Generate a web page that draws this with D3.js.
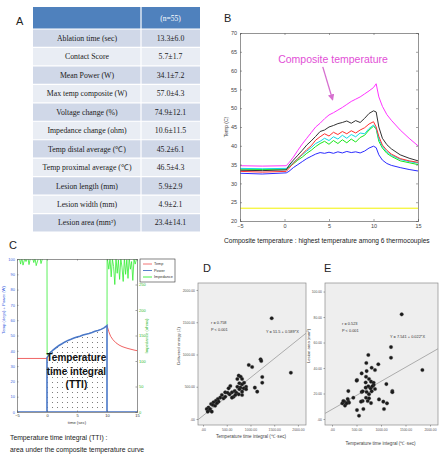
<!DOCTYPE html>
<html>
<head>
<meta charset="utf-8">
<script src="https://d3js.org/d3.v7.min.js"></script>
<style>
  body { margin: 0; background: #fff; }
  svg { display: block; font-family: "Liberation Sans", Arial, sans-serif; }
</style>
</head>
<body>
<div id="root"></div>
<script>
// ---------- Panel A : table ----------
const tableHeader = ["", "(n=55)"];
const tableLabels = [
  "Ablation time (sec)", "Contact Score", "Mean Power (W)", "Max temp composite (W)",
  "Voltage change (%)", "Impedance change (ohm)", "Temp distal average (\u2103)",
  "Temp proximal average (\u2103)", "Lesion length (mm)", "Lesion width (mm)", "Lesion area (mm\u00b2)"
];
const tableValues = [
  "13.3\u00b16.0", "5.7\u00b11.7", "34.1\u00b17.2", "57.0\u00b14.3", "74.9\u00b112.1", "10.6\u00b111.5",
  "45.2\u00b16.1", "46.5\u00b14.3", "5.9\u00b12.9", "4.9\u00b12.1", "23.4\u00b114.1"
];

// ---------- Panel B : thermocouple temperatures ----------
const timeB = [-5, -2.5, 0.2, 0.5, 1, 1.5, 2, 2.5, 3, 3.5, 4, 4.5, 5, 5.5, 6, 6.5, 7, 7.5, 8, 8.5, 9, 9.5, 10, 10.3, 10.6, 11, 11.5, 12, 13, 14, 15];
const tempMagenta = [34.7, 34.6, 34.7, 35.5, 37.0, 38.8, 40.5, 42.0, 43.5, 45.0, 46.0, 47.2, 48.2, 48.8, 49.5, 50.2, 51.0, 51.8, 52.4, 53.0, 53.8, 54.6, 55.5, 56.5, 53.0, 50.5, 48.3, 46.8, 44.2, 42.0, 40.0];
const tempBlack   = [33.5, 33.4, 33.6, 34.8, 36.2, 37.5, 38.8, 40.2, 41.3, 42.5, 43.8, 44.2, 45.0, 45.4, 45.9, 46.2, 46.6, 46.0, 46.7, 46.2, 47.3, 48.6, 49.3, 49.0, 45.0, 42.0, 40.3, 39.2, 37.6, 36.7, 36.0];
const tempRed     = [33.2, 33.0, 33.2, 34.0, 35.4, 36.6, 37.8, 39.0, 40.0, 41.5, 42.4, 43.2, 42.6, 43.6, 43.0, 43.8, 43.2, 44.0, 43.4, 44.2, 44.8, 45.8, 46.4, 45.0, 42.5, 40.2, 38.8, 37.8, 36.6, 36.0, 35.6];
const tempCyan    = [34.0, 33.9, 34.0, 34.5, 35.6, 36.6, 37.6, 38.6, 39.5, 40.6, 41.2, 42.0, 41.4, 42.4, 41.8, 42.8, 42.0, 43.0, 42.4, 43.4, 43.2, 44.6, 45.5, 44.6, 41.8, 39.8, 38.4, 37.5, 36.4, 35.8, 35.4];
const tempGreen   = [33.8, 33.7, 33.8, 34.3, 35.2, 36.2, 37.0, 38.0, 38.8, 39.8, 40.6, 41.2, 40.4, 41.4, 40.6, 41.6, 40.8, 41.8, 41.0, 42.2, 42.8, 44.2, 45.2, 44.5, 41.2, 39.4, 38.0, 37.2, 36.0, 35.5, 35.0];
const tempBlue    = [32.7, 32.5, 32.8, 33.2, 34.2, 35.0, 35.8, 36.6, 37.2, 37.8, 38.2, 38.0, 38.3, 38.0, 38.4, 38.1, 38.5, 38.2, 38.4, 38.1, 38.6, 39.4, 39.9, 39.5, 37.6, 36.2, 35.3, 34.8, 34.2, 33.7, 33.3];
const timeYellow = [-5, 15];
const tempYellow = [23.4, 23.4];
const ticksBx = [-5, 0, 5, 10, 15];
const ticksBy = [20, 25, 30, 35, 40, 45, 50, 55, 60, 65, 70];

// ---------- Panel C : TTI ----------
const timeCPre = [-5, -2.5, 0];
const tempCPre = [35, 35, 35];
const timeCAbl = [0, 0.25, 0.5, 1, 1.5, 2, 2.5, 3, 3.5, 4, 4.5, 5, 5.5, 6, 6.5, 7, 7.5, 8, 8.5, 9, 9.5, 10];
const tempCAbl = [35.5, 37, 38.5, 40.5, 42, 43.5, 44.6, 45.8, 46.8, 47.5, 48.3, 49, 49.5, 50.3, 50.8, 51.3, 52, 52.8, 53.3, 54, 55, 56.5];
const timeCPost = [10, 10.3, 10.6, 11, 11.5, 12, 12.5, 13, 13.5, 14, 14.5, 15];
const tempCPost = [56.5, 52.5, 49.5, 47.2, 45.2, 43.8, 42.8, 42.1, 41.5, 41, 40.5, 40.1];
const timePower = [-5, 15];
const power = [0, 0];
const timeImpPre = [-5, -4.6, -4.4, -4.2, -4, -3.7, -3.5, -3.2, -3, -2.8, -2.5, -2.2, -2, -1.8, -1.5, -1.2, -1, -0.7, -0.5, -0.2, 0, 0.02, 0.3, 0.6];
const impPre = [305, 302, 290, 303, 288, 301, 295, 304, 289, 300, 306, 293, 302, 287, 299, 305, 291, 303, 304, 302, 300, 112, 115, 118];
const timeImpPost = [10, 10.02, 10.3, 10.5, 10.7, 10.9, 11.1, 11.3, 11.5, 11.7, 11.9, 12.1, 12.3, 12.5, 12.7, 12.9, 13.1, 13.3, 13.5, 13.7, 13.9, 14.1, 14.3, 14.5, 14.7, 15];
const impPost = [170, 305, 280, 302, 265, 300, 285, 250, 303, 272, 298, 260, 301, 284, 256, 302, 270, 299, 262, 303, 280, 295, 258, 300, 290, 304];
const ticksCx = [-5, 0, 5, 10, 15];
const ticksCLeft = [0, 10, 20, 30, 40, 50, 60, 70, 80, 90, 100];
const ticksCRight = [0, 50, 100, 150, 200, 250];
const legendC = ["Temp", "Power", "Impedance"];

// ---------- Panel D : TTI vs delivered energy ----------
const ttiD = [1447, 1851, 964, 1035, 1213, 1227, 1248, 1248, 1092, 1142, 752, 794, 823, 723, 766, 823, 865, 907, 575, 723, 787, 468, 518, 560, 610, 667, 702, 752, 823, 858, 645, 681, 397, 362, 312, 270, 327, 433, 220, 170, 206, 255, 114, 78, 128, 99, 149, 539, 610, 766, 907, 823, 184, 468, 291];
const energyD = [1561, 718, 837, 806, 925, 899, 651, 563, 486, 424, 672, 656, 620, 620, 553, 537, 563, 501, 512, 501, 486, 413, 408, 382, 413, 434, 408, 382, 424, 475, 346, 372, 372, 331, 310, 284, 269, 320, 258, 232, 217, 206, 176, 155, 135, 114, 155, 475, 331, 460, 460, 372, 114, 346, 243];
const fitD = { a: 51.5, b: 0.589, r: "0.758" };

// ---------- Panel E : TTI vs lesion area ----------
const ttiE = [1422, 1844, 1204, 1204, 1231, 1231, 1109, 1122, 1061, 741, 700, 809, 877, 945, 605, 510, 694, 755, 796, 850, 850, 741, 687, 789, 605, 707, 755, 809, 694, 755, 626, 728, 796, 333, 435, 320, 251, 211, 265, 333, 347, 640, 551, 510, 959, 1047, 592, 877, 687, 707, 626, 503, 231, 299, 823];
const areaE = [82.1, 38.4, 56.4, 48.1, 22.0, 21.0, 27.4, 12.3, 7.8, 50.2, 43.9, 40.2, 38.4, 42.9, 35.8, 30.6, 33.2, 31.4, 29.3, 28.5, 26.7, 25.7, 24.6, 24.0, 21.2, 21.2, 19.5, 21.7, 16.7, 16.2, 14.1, 14.1, 12.5, 21.9, 16.7, 15.7, 13.6, 12.3, 10.5, 13.6, 12.8, 7.8, 2.6, 7.0, 15.4, 13.6, 13.6, 23.5, 28.7, 37.6, 21.7, 30.1, 14.1, 12.3, 25.7];
const fitE = { a: 7.541, b: 0.022, r: "0.523" };
const ticksTTI = [0, 500, 1000, 1500, 2000];
const ticksEnergy = [0, 500, 1000, 1500, 2000];
const ticksArea = [0, 20, 40, 60, 80, 100];

// ================= drawing =================
const svg = d3.select("#root").append("svg").attr("width", 441).attr("height", 454);
svg.append("rect").attr("width", 441).attr("height", 454).attr("fill", "#fff");

const defs = svg.append("defs");
defs.append("pattern").attr("id", "dots").attr("width", 5).attr("height", 5)
  .attr("patternUnits", "userSpaceOnUse")
  .append("circle").attr("cx", 2.5).attr("cy", 2.5).attr("r", 0.55).attr("fill", "#666");
defs.append("marker").attr("id", "arrowPink").attr("viewBox", "0 0 10 10")
  .attr("refX", 8).attr("refY", 5).attr("markerWidth", 5).attr("markerHeight", 5)
  .attr("orient", "auto")
  .append("path").attr("d", "M0,0L10,5L0,10z").attr("fill", "#d66fcf");

function panelLabel(t, x, y) {
  svg.append("text").attr("x", x).attr("y", y).attr("font-size", 11).attr("fill", "#222").text(t);
}
const zip = (xs, ys) => xs.map((x, i) => [x, ys[i]]);

// ---- A ----
panelLabel("A", 16, 25);
const tA = { x0: 33, xs: 141, x1: 200, y0: 7, hh: 22 };
const rowY = d3.scaleBand().domain(d3.range(tableLabels.length)).range([tA.y0 + tA.hh, 232]);
const gA = svg.append("g").attr("font-family", "'Liberation Serif', 'Times New Roman', serif");
gA.append("rect").attr("x", tA.x0).attr("y", tA.y0).attr("width", tA.x1 - tA.x0).attr("height", tA.hh)
  .attr("fill", "#4f81bd");
gA.append("text").attr("x", (tA.xs + tA.x1) / 2).attr("y", tA.y0 + tA.hh / 2 + 2.5)
  .attr("text-anchor", "middle").attr("font-size", 7.5).attr("fill", "#fff").text(tableHeader[1]);
const rows = gA.selectAll("g.row").data(tableLabels).join("g").attr("class", "row");
rows.append("rect").attr("x", tA.x0).attr("y", (d, i) => rowY(i)).attr("width", tA.x1 - tA.x0)
  .attr("height", rowY.bandwidth()).attr("fill", (d, i) => i % 2 === 0 ? "#d0d8e8" : "#e9edf4");
rows.append("text").attr("x", (tA.x0 + tA.xs) / 2).attr("y", (d, i) => rowY(i) + rowY.bandwidth() / 2 + 2.7)
  .attr("text-anchor", "middle").attr("font-size", 7.8).attr("fill", "#1a1a1a").text(d => d);
rows.append("text").attr("x", (tA.xs + tA.x1) / 2).attr("y", (d, i) => rowY(i) + rowY.bandwidth() / 2 + 2.7)
  .attr("text-anchor", "middle").attr("font-size", 7.8).attr("fill", "#1a1a1a").text((d, i) => tableValues[i]);
// white grid lines
gA.selectAll("line.h").data(d3.range(tableLabels.length + 1)).join("line")
  .attr("x1", tA.x0).attr("x2", tA.x1)
  .attr("y1", i => i === 0 ? tA.y0 + tA.hh : rowY(i - 1) + rowY.bandwidth())
  .attr("y2", i => i === 0 ? tA.y0 + tA.hh : rowY(i - 1) + rowY.bandwidth())
  .attr("stroke", "#fff").attr("stroke-width", 1.2);
gA.append("line").attr("x1", tA.xs).attr("x2", tA.xs).attr("y1", tA.y0).attr("y2", 232)
  .attr("stroke", "#fff").attr("stroke-width", 1.2);

// ---- B ----
panelLabel("B", 224, 22);
const xB = d3.scaleLinear().domain([-5, 15]).range([240, 418]);
const yB = d3.scaleLinear().domain([20, 70]).range([221, 33]);
const gB = svg.append("g");
const lineB = d3.line().x(d => xB(d[0])).y(d => yB(d[1]));
const seriesB = [
  { t: timeYellow, v: tempYellow, c: "#f2f200" },
  { t: timeB, v: tempBlue, c: "#2b2bff" },
  { t: timeB, v: tempGreen, c: "#19e619" },
  { t: timeB, v: tempCyan, c: "#12d9e6" },
  { t: timeB, v: tempRed, c: "#ff3030" },
  { t: timeB, v: tempBlack, c: "#333" },
  { t: timeB, v: tempMagenta, c: "#ff33ff" }
];
gB.selectAll("path.s").data(seriesB).join("path").attr("class", "s")
  .attr("d", s => lineB(zip(s.t, s.v))).attr("fill", "none").attr("stroke", s => s.c).attr("stroke-width", 1);
function styleAxis(g, size, color) {
  g.selectAll(".domain").attr("stroke", "#666").attr("stroke-width", 0.7);
  g.selectAll(".tick line").attr("stroke", "#666").attr("stroke-width", 0.6);
  g.selectAll("text").attr("font-size", size).attr("fill", color);
}
gB.append("g").attr("transform", "translate(0,221)")
  .call(d3.axisBottom(xB).tickValues(ticksBx).tickSize(-2).tickPadding(3)).call(styleAxis, 5.5, "#444");
gB.append("g").attr("transform", "translate(0,33)")
  .call(d3.axisTop(xB).tickValues(ticksBx).tickSize(-2).tickFormat("")).call(styleAxis, 5.5, "#444");
gB.append("g").attr("transform", "translate(240,0)")
  .call(d3.axisLeft(yB).tickValues(ticksBy).tickSize(-2).tickPadding(3)).call(styleAxis, 5.5, "#444");
gB.append("g").attr("transform", "translate(418,0)")
  .call(d3.axisRight(yB).tickValues(ticksBy).tickSize(-2).tickFormat("")).call(styleAxis, 5.5, "#444");
gB.append("text").attr("transform", "translate(228,127) rotate(-90)").attr("text-anchor", "middle")
  .attr("font-size", 5).attr("fill", "#444").text("Temp (C)");
gB.append("text").attr("x", 333).attr("y", 63).attr("text-anchor", "middle")
  .attr("font-size", 10.5).attr("fill", "#e24fd6").text("Composite temperature");
gB.append("line").attr("x1", xB(4.3)).attr("y1", yB(61)).attr("x2", xB(5.4)).attr("y2", yB(52.3))
  .attr("stroke", "#d66fcf").attr("stroke-width", 1.3).attr("marker-end", "url(#arrowPink)");
svg.append("text").attr("x", 224).attr("y", 243).attr("font-size", 6.6).attr("fill", "#222")
  .text("Composite temperature : highest temperature among 6 thermocouples");

// ---- C ----
panelLabel("C", 9, 249);
const xC = d3.scaleLinear().domain([-5, 15]).range([17, 137]);
const yCL = d3.scaleLinear().domain([0, 100]).range([412, 259]);
const yCR = d3.scaleLinear().domain([0, 300]).range([412, 259]);
defs.append("clipPath").attr("id", "clipC").append("rect")
  .attr("x", 17).attr("y", 259).attr("width", 120).attr("height", 153);
const gC = svg.append("g");
const plotC = gC.append("g").attr("clip-path", "url(#clipC)");
const lineCL = d3.line().x(d => xC(d[0])).y(d => yCL(d[1]));
const lineCR = d3.line().x(d => xC(d[0])).y(d => yCR(d[1]));
const abl = zip(timeCAbl, tempCAbl);
plotC.append("path").datum(abl)
  .attr("d", d3.area().x(d => xC(d[0])).y0(yCL(0)).y1(d => yCL(d[1])))
  .attr("fill", "url(#dots)");
plotC.append("path").attr("d", lineCR(zip(timeImpPre, impPre))).attr("fill", "none").attr("stroke", "#33ee33").attr("stroke-width", 0.8);
plotC.append("path").attr("d", lineCR(zip(timeImpPost, impPost))).attr("fill", "none").attr("stroke", "#33ee33").attr("stroke-width", 0.8);
plotC.append("path").attr("d", lineCL(zip(timeCPre, tempCPre))).attr("fill", "none").attr("stroke", "#f06464").attr("stroke-width", 1);
plotC.append("path").attr("d", lineCL(zip(timeCPost, tempCPost))).attr("fill", "none").attr("stroke", "#f06464").attr("stroke-width", 1);
plotC.append("path").attr("d", lineCL(zip(timePower, power))).attr("fill", "none").attr("stroke", "#4472c4").attr("stroke-width", 1.6);
plotC.append("path").attr("d", lineCL([[timeCAbl[0], 0], ...abl, [timeCAbl[timeCAbl.length - 1], 0]]))
  .attr("fill", "none").attr("stroke", "#4a78c8").attr("stroke-width", 1.6);
gC.append("g").attr("transform", "translate(0,412)")
  .call(d3.axisBottom(xC).tickValues(ticksCx).tickSize(-1.5).tickPadding(2)).call(styleAxis, 4, "#333");
gC.append("g").attr("transform", "translate(0,259)")
  .call(d3.axisTop(xC).tickValues(ticksCx).tickSize(-1.5).tickFormat("")).call(styleAxis, 4, "#333");
gC.append("g").attr("transform", "translate(17,0)")
  .call(d3.axisLeft(yCL).tickValues(ticksCLeft).tickSize(-1.5).tickPadding(2)).call(styleAxis, 4, "#3b5fe0");
gC.append("g").attr("transform", "translate(137,0)")
  .call(d3.axisRight(yCR).tickValues(ticksCRight).tickSize(-1.5).tickPadding(2)).call(styleAxis, 4, "#2db82d");
gC.append("text").attr("transform", "translate(5,310) rotate(-90)").attr("text-anchor", "middle")
  .attr("font-size", 4.2).attr("fill", "#3b5fe0").text("Temp (degs) + Power (W)");
gC.append("text").attr("transform", "translate(148,336) rotate(-90)").attr("text-anchor", "middle")
  .attr("font-size", 4.2).attr("fill", "#2db82d").text("Impedance (ohms)");
gC.append("text").attr("x", 77).attr("y", 424).attr("text-anchor", "middle")
  .attr("font-size", 4.2).attr("fill", "#333").text("time (sec)");
const tti = gC.append("text").attr("text-anchor", "middle").attr("font-weight", "bold")
  .attr("font-family", "'Liberation Sans Narrow', 'Liberation Sans', Arial, sans-serif")
  .attr("font-size", 10).attr("fill", "#111");
["Temperature", "time integral", "(TTI)"].forEach((s, i) =>
  tti.append("tspan").attr("x", xC(4.9)).attr("y", 361 + i * 13.5).text(s));
// legend
const lg = gC.append("g").attr("transform", "translate(140,259)");
lg.append("rect").attr("width", 35).attr("height", 23).attr("fill", "#fff").attr("stroke", "#333").attr("stroke-width", 0.6);
const legColors = ["#f06464", "#4472c4", "#33ee33"];
legendC.forEach((s, i) => {
  lg.append("line").attr("x1", 3).attr("x2", 12).attr("y1", 5 + i * 6.5).attr("y2", 5 + i * 6.5)
    .attr("stroke", legColors[i]).attr("stroke-width", 0.9);
  lg.append("text").attr("x", 14).attr("y", 6.4 + i * 6.5).attr("font-size", 3.8).attr("fill", "#333").text(s);
});
svg.append("text").attr("x", 10).attr("y", 440).attr("font-size", 6.8).attr("fill", "#222")
  .text("Temperature time integral (TTI) :");
svg.append("text").attr("x", 10).attr("y", 452).attr("font-size", 6.8).attr("fill", "#222")
  .text("area under the composite temperature curve");

// ---- D & E scatter ----
function scatter(o) {
  const x = d3.scaleLinear().domain(o.xDom).range([o.x0, o.x1]);
  const y = d3.scaleLinear().domain(o.yDom).range([o.y1, o.y0]);
  const g = svg.append("g");
  const clipId = "clip" + o.name;
  defs.append("clipPath").attr("id", clipId).append("rect")
    .attr("x", o.x0).attr("y", o.y0).attr("width", o.x1 - o.x0).attr("height", o.y1 - o.y0);
  g.append("rect").attr("x", o.x0).attr("y", o.y0).attr("width", o.x1 - o.x0).attr("height", o.y1 - o.y0)
    .attr("fill", "#eeeeee").attr("stroke", "#8a8a8a").attr("stroke-width", 0.7);
  g.append("line").attr("clip-path", `url(#${clipId})`)
    .attr("x1", x(o.xDom[0])).attr("y1", y(o.fit.a + o.fit.b * o.xDom[0]))
    .attr("x2", x(o.xDom[1])).attr("y2", y(o.fit.a + o.fit.b * o.xDom[1]))
    .attr("stroke", "#9a9a9a").attr("stroke-width", 0.8);
  g.selectAll("circle").data(zip(o.xs, o.ys)).join("circle")
    .attr("cx", d => x(d[0])).attr("cy", d => y(d[1])).attr("r", 1.8)
    .attr("fill", "#1a1a1a").attr("stroke", "#555").attr("stroke-width", 0.3);
  const fmt = v => v === 0 ? ".00" : d3.format(".2f")(v);
  g.append("g").attr("transform", `translate(0,${o.y1})`)
    .call(d3.axisBottom(x).tickValues(o.xTicks).tickSize(1.5).tickPadding(2).tickFormat(fmt))
    .call(styleAxis, 3.4, "#555").call(a => a.select(".domain").remove());
  g.append("g").attr("transform", `translate(${o.x0},0)`)
    .call(d3.axisLeft(y).tickValues(o.yTicks).tickSize(1.5).tickPadding(1.5).tickFormat(fmt))
    .call(styleAxis, 3.4, "#555").call(a => a.select(".domain").remove());
  g.append("text").attr("x", (o.x0 + o.x1) / 2 - 1).attr("y", o.xLabelY).attr("text-anchor", "middle")
    .attr("font-size", 4.6).attr("fill", "#444").text("Temperature time integral (\u2103\u00b7sec)");
  g.append("text").attr("transform", `translate(${o.yLabelX},${(o.y0 + o.y1) / 2 - 8}) rotate(-90)`)
    .attr("text-anchor", "middle").attr("font-size", 4.2).attr("fill", "#444").text(o.yLabel);
  const ann = g.append("g").attr("font-size", 3.9).attr("fill", "#333");
  ann.append("text").attr("x", o.rX).attr("y", o.rY).text(`r = ${o.fit.r}`);
  ann.append("text").attr("x", o.rX).attr("y", o.rY + 7).text("P < 0.001");
  ann.append("text").attr("x", o.eqX).attr("y", o.eqY).text(`Y = ${o.fit.a} + ${d3.format(".3~f")(o.fit.b)}*X`);
}
panelLabel("D", 203, 272);
scatter({
  name: "D", xs: ttiD, ys: energyD, fit: fitD, xDom: [-106, 2170], yDom: [-93, 2108],
  x0: 198, x1: 306, y0: 283, y1: 425, xTicks: ticksTTI, yTicks: ticksEnergy,
  yLabel: "Delivered energy (J)", yLabelX: 180, xLabelY: 438,
  rX: 211, rY: 324, eqX: 266, eqY: 333
});
panelLabel("E", 324, 272);
scatter({
  name: "E", xs: ttiE, ys: areaE, fit: fitE, xDom: [-143, 2163], yDom: [-4.7, 106.7],
  x0: 325, x1: 438, y0: 283, y1: 425, xTicks: ticksTTI, yTicks: ticksArea,
  yLabel: "Lesion area (mm\u00b2)", yLabelX: 310, xLabelY: 445,
  rX: 342, rY: 325, eqX: 390, eqY: 338
});
</script>
</body>
</html>
